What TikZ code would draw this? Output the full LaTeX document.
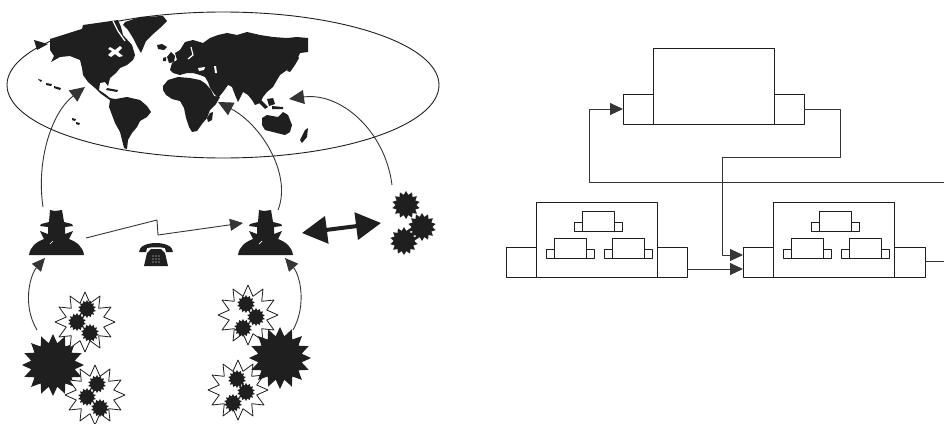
\documentclass[tikz,border=0pt]{standalone}
\usetikzlibrary{shapes.geometric,arrows.meta}
\colorlet{ink}{black!88}
\tikzset{
  wire/.style={draw=ink!90, line width=0.9pt},
  tip/.style={-{Triangle[length=13pt,width=12pt]}},
  bigtip/.style={-{Triangle[length=15pt,width=14pt]}},
  box/.style={draw=ink, line width=0.9pt, rectangle, inner sep=0pt, outer sep=0pt, anchor=north west},
  burstW/.style={star, star points=12, star point ratio=1.55, draw=ink, line width=0.8pt, fill=white, inner sep=0pt, minimum size=60pt},
  burstB/.style={star, star points=16, star point ratio=1.4, fill=ink, inner sep=0pt, minimum size=62pt},
  cog/.style={star, star points=14, star point ratio=1.35, fill=ink, inner sep=0pt, minimum size=#1},
  spyfig/.pic={
    \fill[ink] (-27,0) .. controls (-26,-8) and (-20,-13) .. (-12,-16) -- (-16,-24) -- (-8,-21)
      -- (-8,-28) -- (-16,-29) -- (-15,-31) -- (-7,-33) -- (-6,-45) -- (-1,-44) -- (6,-45)
      -- (8,-33) -- (16,-31) -- (17,-29) -- (9,-28) -- (9,-21) -- (17,-24) -- (13,-16)
      .. controls (21,-13) and (27,-8) .. (28,0) -- cycle;
    \draw[white, line width=0.7pt] (-6,-11) -- (-3,-14);
  },
  phonefig/.pic={
    \fill[ink] (-12,0) -- (-9,-13) -- (-5,-17) -- (5,-17) -- (9,-13) -- (12,0) -- cycle;
    \fill[ink] (-17,-14) .. controls (-17,-26) and (17,-26) .. (17,-14) -- (10,-14) -- (9,-18)
      .. controls (4,-19) and (-4,-19) .. (-9,-18) -- (-10,-14) -- cycle;
    \foreach \i in {-3,0,3} \foreach \j in {-10,-7,-4}
      \fill[white] (\i,\j) circle[radius=0.6];
  },
  mini/.pic={
    \draw[ink, line width=0.8pt] (8,0) rectangle (40,20) (0,11) rectangle (8,20) (40,11) rectangle (48,20);
  }
}
\begin{document}
\begin{tikzpicture}[x=1pt,y=-1pt,line join=round]
\useasboundingbox (0,0) rectangle (944,423);

% ---------- world map ----------
\draw[ink, line width=0.9pt] (223,85) ellipse [x radius=216, y radius=73];
% North America
\fill[ink] (50,39) -- (82,29) -- (83,25) -- (118,20) -- (121,27) -- (123,35) -- (132,45) -- (135,55)
  -- (133,60) -- (127,65) -- (120,68) -- (116,73) -- (110,78) -- (108,86) -- (105,82) -- (100,83)
  -- (99,90) -- (105,94) -- (110,98) -- (115,99) -- (113,102) -- (107,98) -- (100,93) -- (95,88)
  -- (88,82) -- (83,75) -- (82,68) -- (80,60) -- (70,56) -- (60,57) -- (51,62) -- (54,56) -- (50,50) -- cycle;
\fill[white] (110,47) -- (115,50) -- (120,46) -- (122,48) -- (118,52) -- (123,56) -- (119,57)
  -- (115,54) -- (111,57) -- (108,55) -- (112,51) -- (108,49) -- cycle;
\draw[white, line width=1.3pt] (113,21) -- (118,31) -- (125,41);
\fill[ink] (107,88) -- (118,90) -- (117,92) -- (106,90) -- cycle;
\fill[ink] (34,40) -- (48,44) -- (37,50) -- cycle;
% Greenland and Iceland
\fill[ink] (125,22) -- (140,17) -- (163,16) -- (167,21) -- (160,28) -- (152,35) -- (146,41)
  -- (141,53) -- (137,46) -- (133,38) -- (128,30) -- (123,25) -- cycle;
\fill[ink] (157,45) -- (162,44) -- (167,47) -- (164,50) -- (158,49) -- cycle;
% South America
\fill[ink] (110,100) -- (127,97) -- (140,100) -- (147,106) -- (151,112) -- (147,117) -- (140,121)
  -- (137,127) -- (132,133) -- (128,140) -- (127,149) -- (124,148) -- (122,140) -- (120,132)
  -- (115,123) -- (112,115) -- (109,107) -- cycle;
% Pacific islands
\fill[ink] (38,79) -- (42,80) -- (41,82) -- cycle;
\fill[ink] (46,83) -- (52,84) -- (51,86) -- (46,85) -- cycle;
\fill[ink] (54,86) -- (61,88) -- (60,90) -- (54,88) -- cycle;
\fill[ink] (72,118) -- (76,119) -- (75,121) -- (72,120) -- cycle;
\fill[ink] (76,122) -- (80,123) -- (79,125) -- (76,124) -- cycle;
% Eurasia
\fill[ink] (180,50) -- (185,42) -- (193,40) -- (203,43) -- (210,38) -- (218,35) -- (227,33) -- (237,35)
  -- (247,32) -- (260,35) -- (273,37) -- (287,38) -- (297,37) -- (308,38) -- (308,52) -- (300,53)
  -- (297,60) -- (292,67) -- (287,70) -- (280,75) -- (277,80) -- (273,87) -- (267,92) -- (263,97)
  -- (260,103) -- (255,105) -- (252,100) -- (248,95) -- (243,92) -- (238,102) -- (235,95) -- (232,87)
  -- (228,85) -- (223,92) -- (218,98) -- (215,95) -- (210,88) -- (208,82) -- (205,77) -- (200,75)
  -- (193,73) -- (187,73) -- (180,75) -- (173,73) -- (170,70) -- (172,63) -- (177,60) -- (175,53) -- cycle;
\draw[white, line width=1.2pt] (191,47) -- (193,55) -- (188,59);
\fill[white] (198,68) -- (205,67) -- (204,70) -- (199,71) -- cycle;
\fill[white] (214,66) -- (216,66) -- (217,73) -- (215,73) -- cycle;
% Britain and Ireland
\fill[ink] (167,57) -- (171,52) -- (175,56) -- (174,62) -- (169,63) -- cycle;
\fill[ink] (163,58) -- (166,57) -- (166,61) -- (163,61) -- cycle;
% Japan
\fill[ink] (296,55) -- (299,58) -- (295,65) -- (290,72) -- (287,71) -- (292,63) -- cycle;
% Africa and Madagascar
\fill[ink] (163,86) -- (168,80) -- (178,77) -- (190,78) -- (200,80) -- (206,84) -- (211,90) -- (214,96)
  -- (220,97) -- (216,104) -- (210,110) -- (207,118) -- (202,124) -- (197,131) -- (192,132)
  -- (189,127) -- (186,118) -- (184,108) -- (180,101) -- (172,99) -- (166,95) -- (163,90) -- cycle;
\fill[ink] (210,113) -- (213,112) -- (212,120) -- (208,122) -- (207,118) -- cycle;
% Indonesia
\fill[ink] (256,100) -- (260,99) -- (268,107) -- (265,109) -- cycle;
\fill[ink] (267,99) -- (273,98) -- (275,104) -- (269,106) -- cycle;
\fill[ink] (272,106) -- (283,107) -- (283,109) -- (272,109) -- cycle;
% Australia and New Zealand
\fill[ink] (262,118) -- (267,115) -- (278,117) -- (283,112) -- (288,115) -- (292,125) -- (290,132)
  -- (285,135) -- (273,132) -- (265,130) -- (262,125) -- cycle;
\fill[ink] (305,130) -- (308,128) -- (307,137) -- (302,143) -- (300,140) -- cycle;

% ---------- agents, phone, groups ----------
\coordinate (spyA) at (56,255);
\coordinate (spyB) at (265,255);
\pic at (spyA) {spyfig};
\pic at (spyB) {spyfig};
\pic at (156,266) {phonefig};

% left group
\node[burstB] (bA) at (53,365) {};
\node[burstW] (wA1) at (85,322) {};
\node[cog=18pt] at (87,309) {};
\node[cog=18pt] at (77,322) {};
\node[cog=18pt] at (90,333) {};
\node[burstW] (wA2) at (95,395) {};
\node[cog=18pt] at (97,384) {};
\node[cog=18pt] at (87,397) {};
\node[cog=18pt] at (100,408) {};

% middle group
\node[burstW] (wB1) at (248,315) {};
\node[cog=18pt] at (246,304) {};
\node[cog=18pt] at (256,317) {};
\node[cog=18pt] at (243,328) {};
\node[burstW] (wB2) at (238,390) {};
\node[cog=18pt] at (237,379) {};
\node[cog=18pt] at (246,392) {};
\node[cog=18pt] at (233,403) {};
\node[burstB] (bB) at (280,358) {};

% right group
\node[cog=28pt] (g1) at (406,205) {};
\node[cog=28pt] (g2) at (422,227) {};
\node[cog=28pt] (g3) at (404,241) {};

% connector end points
\coordinate (aUp) at (43,207);
\coordinate (aMap) at (85,87);
\coordinate (bUp) at (278,210);
\coordinate (bMap) at (218,102);
\coordinate (gUp) at (392,185);
\coordinate (gMap) at (289,99);
\coordinate (aLow) at (37,330);
\coordinate (aFeet) at (45,258);
\coordinate (bLow) at (293,330);
\coordinate (bFeet) at (285,258);
\coordinate (callA) at (86,238);
\coordinate (callB) at (243,223);
\coordinate (duoL) at (302,233);
\coordinate (duoR) at (381,223);

\draw[wire, bigtip] (aUp) .. controls (36,160) and (52,112) .. (aMap);
\draw[wire, bigtip] (bUp) .. controls (292,175) and (262,125) .. (bMap);
\draw[wire, bigtip] (gUp) .. controls (385,130) and (340,92) .. (gMap);
\draw[wire, tip] (aLow) .. controls (22,305) and (30,275) .. (aFeet);
\draw[wire, tip] (bLow) .. controls (307,305) and (300,275) .. (bFeet);
\draw[wire, tip] (callA) -- (157,220) -- (158,235) -- (callB);
\draw[ink, line width=4pt, {Triangle[length=25pt,width=27pt]}-{Triangle[length=25pt,width=27pt]}] (duoL) -- (duoR);

% ---------- block diagram ----------
\node[box, minimum width=121pt, minimum height=76pt] (top) at (653,48) {};
\node[box, minimum width=30pt, minimum height=30pt] (topL) at (623,94) {};
\node[box, minimum width=30pt, minimum height=30pt] (topR) at (774,94) {};

\node[box, minimum width=121pt, minimum height=75pt] (lM) at (536,202) {};
\node[box, minimum width=30pt, minimum height=30pt] (lL) at (506,247) {};
\node[box, minimum width=30pt, minimum height=30pt] (lR) at (657,247) {};
\pic at (574,211) {mini};
\pic at (546,238) {mini};
\pic at (604,238) {mini};

\node[box, minimum width=121pt, minimum height=75pt] (rM) at (773,202) {};
\node[box, minimum width=30pt, minimum height=30pt] (rL) at (743,247) {};
\node[box, minimum width=31pt, minimum height=30pt] (rR) at (894,247) {};
\pic at (811,211) {mini};
\pic at (783,238) {mini};
\pic at (841,238) {mini};

\coordinate (fbIn) at (944,182);
\coordinate (outR) at (944,261);
\draw[wire, tip] (fbIn) -- (589,182) |- (topL.west);
\draw[wire, tip] (topR.east) -| (840,157) -- (722,157) |- ([yshift=7pt]rL.west);
\draw[wire, tip] ([yshift=-7pt]lR.east) -- ([yshift=-7pt]rL.west);
\draw[wire] ([yshift=1pt]rR.east) -- (outR);
\end{tikzpicture}
\end{document}
